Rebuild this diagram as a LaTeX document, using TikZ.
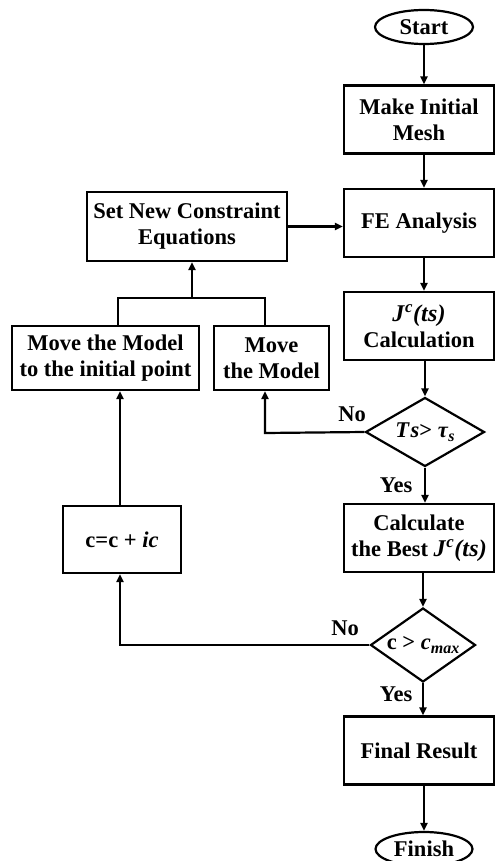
\documentclass[tikz,border=0pt]{standalone}
\usepackage{fontspec}
\setmainfont{Liberation Serif}
\usetikzlibrary{shapes.geometric,arrows.meta}
\tikzset{
  base/.style={draw, line width=2.2pt, inner sep=0pt, align=center, font=\fontsize{22.5}{26}\selectfont\bfseries},
  box/.style={base, rectangle, minimum width=150pt, minimum height=68pt},
  term/.style={base, ellipse, minimum width=98pt, minimum height=34pt},
  dec/.style={base, diamond},
  lbl/.style={font=\fontsize{22.5}{26}\selectfont\bfseries, inner sep=0pt},
  arr/.style={line width=2.2pt, -{Triangle[length=8pt,width=7pt]}},
  ln/.style={line width=2.2pt}
}
\newcommand{\bi}[1]{\textbf{\textit{#1}}}
\newcommand{\jct}{{\fontsize{24}{26}\selectfont\bi{J}\textsuperscript{\bi{c}}\bi{(t\kern0.5pt s)}}}
\begin{document}
\begin{tikzpicture}[x=1pt,y=-1pt]
\useasboundingbox (0,0) rectangle (496,861);
\coordinate (ax) at (424,0);
\node[term] (start) at (424,27) {Start};
\node[box] (mesh) at (419,119.5) {Make Initial\\Mesh};
\node[box] (fe) at (419,223) {FE Analysis};
\node[box] (jc) at (419,326) {\jct\\Calculation};
\node[dec, minimum width=119pt, minimum height=69pt, shape aspect=1.7] (d1) at (425,432) {\bi{T\kern1.5pt s}> \bi{τ}\raisebox{-0.35ex}{\fontsize{16}{16}\selectfont\bi{s}}};
\node[box] (calc) at (419,538) {Calculate\\the Best \jct};
\node[dec, minimum width=105pt, minimum height=74pt, shape aspect=1.4] (d2) at (423,645) {c > \bi{c}\raisebox{-0.4ex}{\fontsize{16}{16}\selectfont\bi{max}}};
\node[box] (final) at (419,750.5) {Final Result};
\node[term, minimum width=97pt] (finish) at (424,849) {Finish};

\node[box, minimum width=200pt, minimum height=69pt] (set) at (187,226.5) {Set New Constraint\\Equations};
\node[box, minimum width=187pt, minimum height=64pt] (mvi) at (105.5,358) {Move the Model\\to the initial point};
\node[box, minimum width=115pt, minimum height=64pt] (mv) at (271.5,358) {Move\\the Model};
\node[box, minimum width=118pt, minimum height=67pt] (cc) at (122,539.5) {c=c + \bi{ic}};

\node[lbl] (no1) at (352,414) {No};
\node[lbl] (yes1) at (396,485) {Yes};
\node[lbl] (no2) at (345,628) {No};
\node[lbl] (yes2) at (396,694) {Yes};

\coordinate (j) at (192,298);
\coordinate (c1) at (265,433);
\coordinate (c2) at (120,645);

\draw[arr] (start) -- (mesh.north -| ax);
\draw[arr] (mesh.south -| ax) -- (fe.north -| ax);
\draw[arr] (fe.south -| ax) -- (jc.north -| ax);
\draw[arr] (jc.south -| d1.north) -- (d1);
\draw[arr] (d1) -- (calc.north -| d1.south);
\draw[arr] (calc.south -| d2.north) -- (d2);
\draw[arr] (d2) -- (final.north -| d2.south);
\draw[arr] (final.south -| finish.north) -- (finish);
\draw[arr] (set) -- (fe.west |- set.east);
\draw[arr] (d1.west) -- (c1) -- (mv.south -| c1);
\draw[arr] (d2.west) -- (c2) -- (cc.south -| c2);
\draw[arr] (cc.north -| c2) -- (mvi.south -| c2);
\draw[ln] (mvi.north -| 118,0) |- (j) -| (mv.north -| c1);
\draw[arr] (j) -- (set.south -| j);
\end{tikzpicture}
\end{document}
